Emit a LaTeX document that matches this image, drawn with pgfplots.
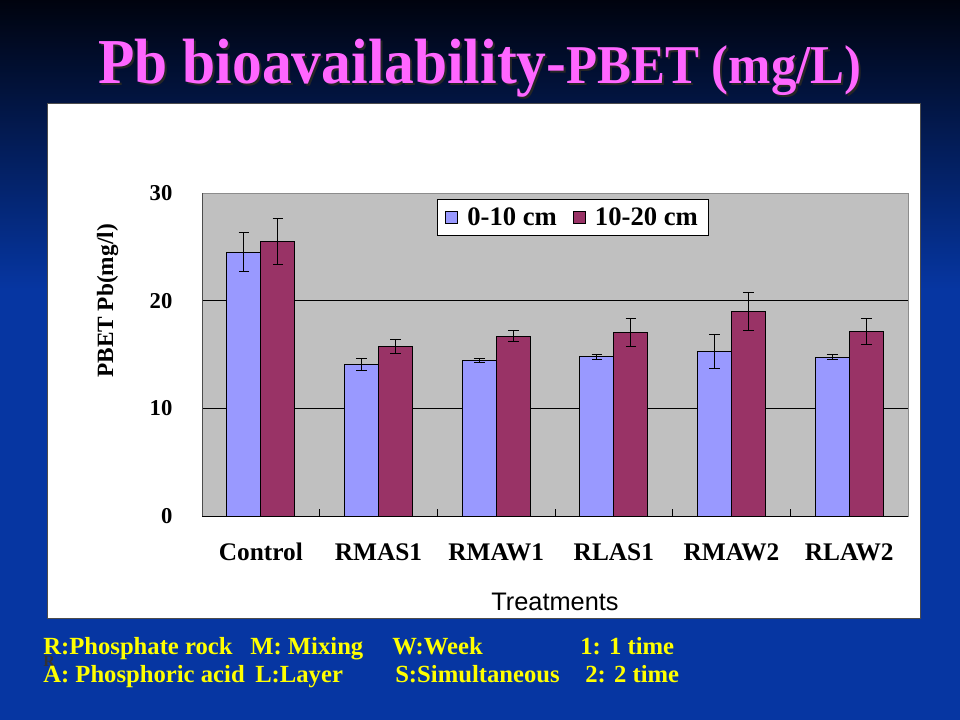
\documentclass[border=0pt]{standalone}
\usepackage{fontspec}
\setmainfont{Liberation Serif}
\newfontfamily\arial{Liberation Sans}
\usepackage{graphicx}
\usepackage{pgfplots}
\pgfplotsset{compat=1.18}

\definecolor{slideblue}{HTML}{0636A2}
\definecolor{slidetop}{HTML}{00030E}
\definecolor{barblue}{HTML}{9999FF}
\definecolor{barred}{HTML}{993366}
\definecolor{plotgray}{HTML}{C0C0C0}
\definecolor{titlepink}{HTML}{FF66FF}
\definecolor{footyellow}{HTML}{FFFF00}

\begin{document}
\begin{tikzpicture}[x=0.75pt,y=-0.75pt]
\useasboundingbox (0,0) rectangle (960,720);
% slide background
\fill[slideblue] (0,0) rectangle (960,720);
\shade[top color=slidetop, bottom color=slideblue] (0,0) rectangle (960,290);

% title with shadow
\node[anchor=base, inner sep=0pt, text=black!85] at (482,86)
  {\scalebox{0.93}[1]{\bfseries\fontsize{48}{50}\selectfont Pb bioavailability-\fontsize{41}{44}\selectfont PBET (mg/L)}};
\node[anchor=base, inner sep=0pt, text=titlepink] at (480,84)
  {\scalebox{0.93}[1]{\bfseries\fontsize{48}{50}\selectfont Pb bioavailability-\fontsize{41}{44}\selectfont PBET (mg/L)}};

% chart area
\fill[white, draw=black!70] (47,103) rectangle (920,618);
\coordinate (psw) at (202,516);

\begin{axis}[
  at={(psw)}, anchor=south west,
  width=529.5pt, height=242.25pt, scale only axis,
  xmin=-0.5, xmax=5.5, ymin=0, ymax=30,
  ybar=0pt, bar width=25.5pt,
  axis background/.style={fill=plotgray},
  axis line style={draw=black!45},
  major tick length=0pt,
  tick pos=left,
  xtick={0,1,2,3,4,5},
  xticklabels={Control,RMAS1,RMAW1,RLAS1,RMAW2,RLAW2},
  xticklabel style={font=\bfseries\fontsize{19}{21}\selectfont, anchor=base, inner sep=0pt, yshift=-33.5pt},
  extra x ticks={0.5,1.5,2.5,3.5,4.5},
  extra x tick labels={},
  extra x tick style={major tick length=5pt, tick align=inside, tick pos=left, tick style={black, line width=0.6pt}},
  ytick={0,10,20,30},
  ymajorgrids,
  grid style={black, line width=0.6pt},
  /pgf/number format/assume math mode=true,
  yticklabel style={font=\bfseries\fontsize{17}{19}\selectfont, anchor=east, inner sep=0pt, xshift=-22pt},
  legend style={at={(rel axis cs:0.333,0.981)}, anchor=north west, draw=black, fill=white,
    font=\bfseries\fontsize{20}{22}\selectfont, inner xsep=6pt, inner ysep=4pt, row sep=0pt,
    /tikz/every odd column/.append style={column sep=5pt},
    /tikz/every even column/.append style={column sep=10pt}},
  legend columns=2,
  legend image code/.code={\draw[#1, draw=black, line width=0.5pt] (0pt,-4.5pt) rectangle (9pt,4.5pt);},
  error bars/error bar style={black, line width=0.6pt},
  error bars/error mark options={rotate=90, mark size=4pt, black, line width=0.6pt},
]
\addplot[fill=barblue, draw=black, line width=0.6pt,
  error bars/.cd, y dir=both, y explicit]
  coordinates {(0,24.5) +- (0,1.8) (1,14.1) +- (0,0.55) (2,14.45) +- (0,0.2)
               (3,14.8) +- (0,0.25) (4,15.3) +- (0,1.6) (5,14.75) +- (0,0.25)};
\addplot[fill=barred, draw=black, line width=0.6pt,
  error bars/.cd, y dir=both, y explicit]
  coordinates {(0,25.5) +- (0,2.15) (1,15.75) +- (0,0.65) (2,16.7) +- (0,0.5)
               (3,17.05) +- (0,1.3) (4,19.0) +- (0,1.75) (5,17.15) +- (0,1.2)};
\legend{0-10 cm,10-20 cm}
\draw[black, line width=0.7pt] (rel axis cs:0,0) -- (rel axis cs:1,0);
\draw[black!70, line width=0.6pt] (rel axis cs:0,0) -- (rel axis cs:0,1);
\end{axis}

% axis titles
\node[rotate=90, anchor=base, inner sep=0pt, font=\bfseries\fontsize{17.5}{19}\selectfont] at (113,301) {PBET Pb(mg/l)};
\node[anchor=base, inner sep=0pt, font=\arial\fontsize{19}{21}\selectfont] at (555,610) {Treatments};

% footer
\begin{scope}[every node/.style={anchor=base west, inner sep=0pt, font=\bfseries\fontsize{18.5}{20}\selectfont}]
\node[text=black!80, font=\bfseries\fontsize{12}{13}\selectfont] at (43,666) {R};
\node[text=footyellow] at (43,654) {R:Phosphate rock};
\node[text=footyellow] at (250,654) {M: Mixing};
\node[text=footyellow] at (392,654) {W:Week};
\node[text=footyellow] at (580,654) {1: 1 time};
\node[text=footyellow] at (43,682) {A: Phosphoric acid};
\node[text=footyellow] at (255,682) {L:Layer};
\node[text=footyellow] at (395,682) {S:Simultaneous};
\node[text=footyellow] at (585,682) {2: 2 time};
\end{scope}
\end{tikzpicture}
\end{document}
